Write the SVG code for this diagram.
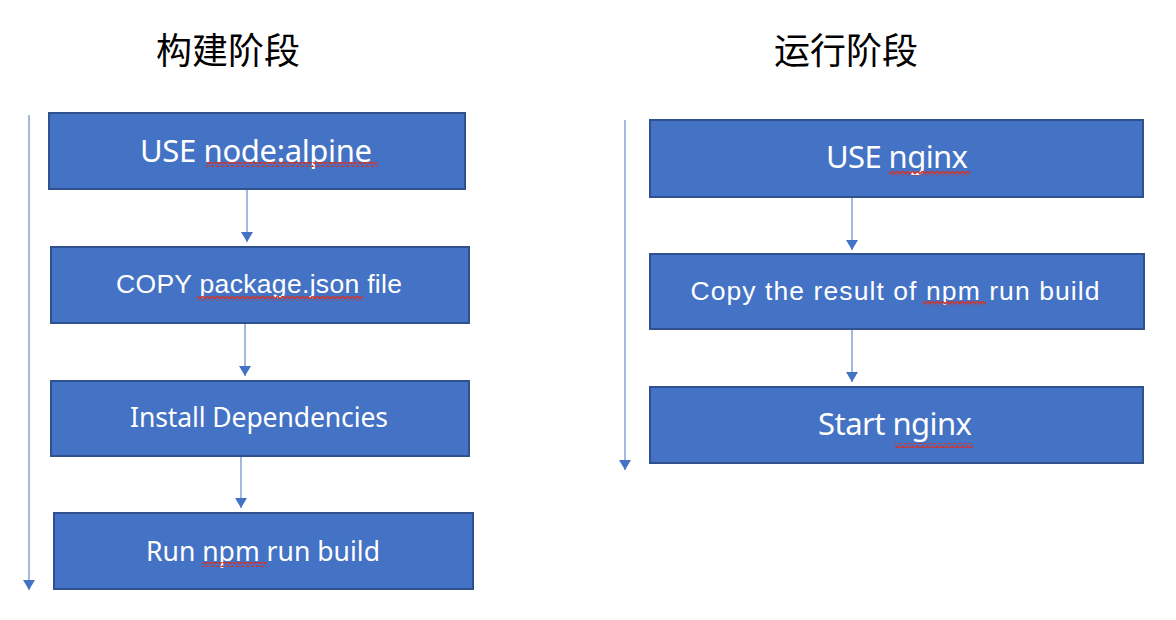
<svg xmlns="http://www.w3.org/2000/svg" width="1176" height="620" viewBox="0 0 1176 620">
<style>
.box{fill:#4472C4;stroke:#2F528F;stroke-width:2}
.lbl{fill:#FFFFFF;font-family:"Noto Sans","Liberation Sans",sans-serif;font-size:26.5px;text-anchor:middle}
.big{font-size:31px}
.ar{font-family:"Liberation Sans",Arial,sans-serif}
.title{fill:#000000;font-family:"Noto Sans CJK SC",sans-serif;font-size:36px;text-anchor:middle}
.conn{stroke:#A3B9E0;stroke-width:2;fill:none}
.sq{fill:url(#squig)}
</style>
<defs>
<marker id="ah" markerWidth="10" markerHeight="12" refX="10" refY="6" orient="auto" markerUnits="userSpaceOnUse" viewBox="0 0 10 12">
<path d="M0 0 L10 6 L0 12 Z" fill="#4472C4"/>
</marker>
<pattern id="squig" width="5" height="5" patternUnits="userSpaceOnUse">
<path d="M0 4 L2.5 1 L5 4" stroke="#D0342C" stroke-width="1.5" fill="none"/>
</pattern>
</defs>
<rect width="1176" height="620" fill="#FFFFFF"/>
<text class="title" x="228" y="64">构建阶段</text>
<text class="title" x="846" y="64">运行阶段</text>
<g id="connectors">
<line class="conn" x1="29" y1="115" x2="29" y2="590" marker-end="url(#ah)"/>
<line class="conn" x1="247" y1="190" x2="247" y2="242" marker-end="url(#ah)"/>
<line class="conn" x1="245" y1="324" x2="245" y2="376" marker-end="url(#ah)"/>
<line class="conn" x1="241" y1="457" x2="241" y2="508" marker-end="url(#ah)"/>
<line class="conn" x1="625" y1="120" x2="625" y2="470" marker-end="url(#ah)"/>
<line class="conn" x1="852" y1="198" x2="852" y2="250" marker-end="url(#ah)"/>
<line class="conn" x1="852" y1="330" x2="852" y2="382" marker-end="url(#ah)"/>
</g>
<g id="node-use-node-alpine">
<rect class="box" x="49" y="113" width="416" height="76"/>
<text class="lbl big" x="256" y="162" textLength="232">USE node:alpine</text>
<rect class="sq" x="206" y="162" width="172" height="5"/>
</g>
<g id="node-copy-package">
<rect class="box" x="51" y="247" width="418" height="76"/>
<text class="lbl ar" x="259" y="293" font-size="25" textLength="286">COPY package.json file</text>
<rect class="sq" x="197" y="296" width="166" height="5"/>
</g>
<g id="node-install">
<rect class="box" x="51" y="381" width="418" height="75"/>
<text class="lbl" x="259" y="427" textLength="258">Install Dependencies</text>
</g>
<g id="node-run-build">
<rect class="box" x="54" y="513" width="419" height="76"/>
<text class="lbl" x="263" y="561" textLength="234">Run npm run build</text>
<rect class="sq" x="202" y="562" width="65" height="5"/>
</g>
<g id="node-use-nginx">
<rect class="box" x="650" y="120" width="493" height="77"/>
<text class="lbl big" x="897" y="168" textLength="142">USE nginx</text>
<rect class="sq" x="889" y="171" width="81" height="5"/>
</g>
<g id="node-copy-result">
<rect class="box" x="650" y="254" width="494" height="75"/>
<text class="lbl ar" x="895" y="300" font-size="28" textLength="409">Copy the result of npm run build</text>
<rect class="sq" x="923" y="301" width="63" height="5"/>
</g>
<g id="node-start-nginx">
<rect class="box" x="650" y="387" width="493" height="76"/>
<text class="lbl big" x="895" y="435" textLength="154">Start nginx</text>
<rect class="sq" x="895" y="443" width="78" height="5"/>
</g>
</svg>
